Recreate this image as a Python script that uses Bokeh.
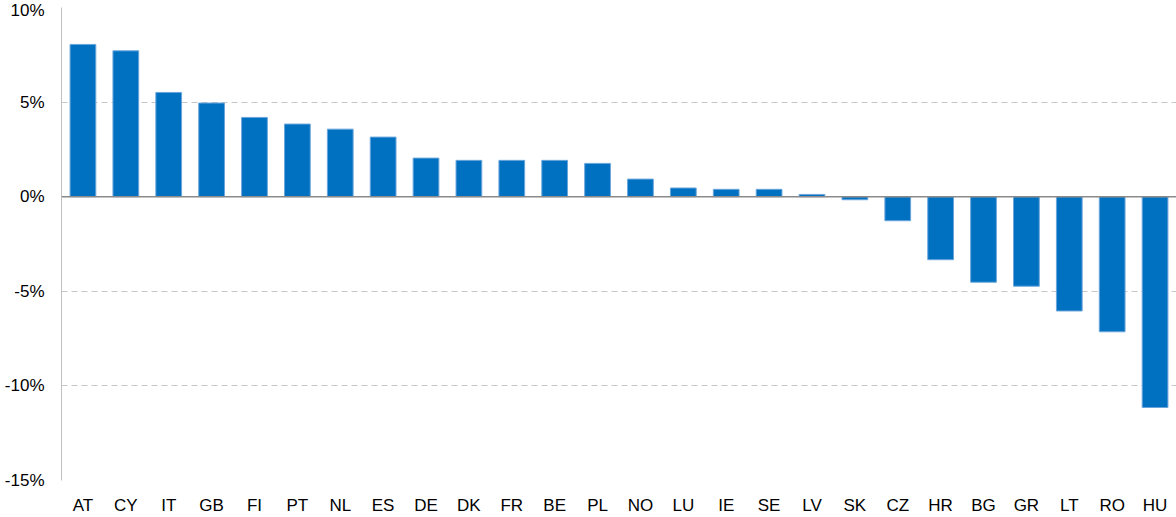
from bokeh.plotting import figure
from bokeh.models import FactorRange, Range1d, FixedTicker, PrintfTickFormatter, Span, ColumnDataSource
from bokeh.embed import file_html
from bokeh.resources import INLINE

countries = ["AT", "CY", "IT", "GB", "FI", "PT", "NL", "ES", "DE", "DK", "FR", "BE", "PL",
             "NO", "LU", "IE", "SE", "LV", "SK", "CZ", "HR", "BG", "GR", "LT", "RO", "HU"]
values = [8.05, 7.71, 5.51, 4.95, 4.19, 3.84, 3.57, 3.15, 2.04, 1.92, 1.92, 1.92, 1.76,
          0.93, 0.46, 0.39, 0.39, 0.12, -0.16, -1.27, -3.33, -4.52, -4.73, -6.04, -7.14, -11.14]
y_ticks = [-15, -10, -5, 0, 5, 10]

FONT = "Liberation Sans"

src = ColumnDataSource(dict(x=countries, top=values))

p = figure(width=1176, height=517, output_backend="svg", toolbar_location=None,
           x_range=FactorRange(factors=countries, range_padding=0),
           y_range=Range1d(-15, 10),
           min_border_left=61, min_border_right=0, min_border_top=7, min_border_bottom=36)
p.outline_line_color = None
p.background_fill_color = "white"

p.vbar(x="x", top="top", bottom=0, width=0.6, source=src,
       fill_color="#0070C0", line_color="#6aa6dc", line_width=1)

zero = Span(location=0, dimension="width", line_color="#8a8a8a", line_width=1.6)
p.add_layout(zero)

# grid
p.xgrid.grid_line_color = None
p.ygrid.ticker = FixedTicker(ticks=y_ticks)
p.ygrid.grid_line_color = "#c6c6c6"
p.ygrid.grid_line_dash = "6 4"
p.ygrid.grid_line_width = 1
p.ygrid.level = "underlay"

# y axis
ya = p.yaxis[0]
ya.ticker = FixedTicker(ticks=y_ticks)
ya.formatter = PrintfTickFormatter(format="%d%%")
ya.axis_line_color = "#c0c0c0"
ya.axis_line_width = 1
ya.major_tick_line_color = None
ya.minor_tick_line_color = None
ya.major_tick_out = 0
ya.major_tick_in = 0
ya.minor_tick_out = 0
ya.major_label_standoff = 17
ya.major_label_text_font = FONT
ya.major_label_text_font_size = "17px"
ya.major_label_text_color = "#000000"

# x axis
xa = p.xaxis[0]
xa.axis_line_color = None
xa.major_tick_line_color = None
xa.minor_tick_line_color = None
xa.major_tick_out = 0
xa.major_tick_in = 0
xa.major_label_standoff = 15
xa.major_label_text_font = FONT
xa.major_label_text_font_size = "17px"
xa.major_label_text_color = "#000000"

open("out.html", "w").write(file_html(p, INLINE))
